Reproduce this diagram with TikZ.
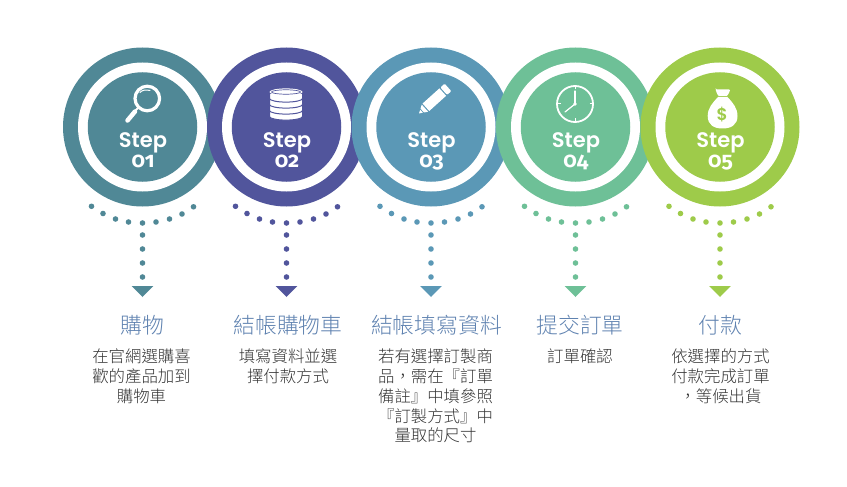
\documentclass[tikz,border=0pt]{standalone}
\usepackage{fontspec}
\setsansfont{Poppins}
\newfontfamily\cjkfont{Noto Sans CJK TC Light}
\newfontfamily\numfont[Numbers=OldStyle]{Fira Sans Bold}
\newfontfamily\stepfont{Poppins SemiBold}
\definecolor{cA}{HTML}{508896}
\definecolor{cB}{HTML}{51559C}
\definecolor{cC}{HTML}{5B98B6}
\definecolor{cD}{HTML}{6EC097}
\definecolor{cE}{HTML}{9ECB4A}
\definecolor{titlec}{HTML}{5F82B0}
\definecolor{bodyc}{HTML}{333333}
\tikzset{
  outerring/.style={circle,minimum size=159pt,inner sep=0pt,fill=#1},
  whitering/.style={circle,minimum size=129pt,inner sep=0pt,fill=white},
  innerdisc/.style={circle,minimum size=109.5pt,inner sep=0pt,fill=#1},
  steptext/.style={text=white,font=\stepfont\fontsize{21}{24}\selectfont,anchor=base,inner sep=0pt},
  numtext/.style={text=white,font=\numfont\fontsize{21.5}{24}\selectfont,anchor=base,inner sep=0pt},
  titletext/.style={text=titlec,font=\cjkfont\fontsize{21.8}{26}\selectfont,anchor=center,inner sep=0pt},
  bodytext/.style={text=bodyc,font=\cjkfont\fontsize{16.4}{19.7}\selectfont,align=center,anchor=north,inner sep=0pt},
}
% #1 name suffix, #2 x, #3 colour, #4 number
\newcommand{\stepblock}[4]{%
  \node[outerring=#3] (outer#1) at (#2,127) {};
  \node[whitering] (white#1) at (#2,127) {};
  \node[innerdisc=#3] (inner#1) at (#2,127) {};
  \node[steptext] (step#1) at (#2+0.5,147.5) {Step};
  \node[numtext] (num#1) at (#2+0.5,167.5) {#4};
  \foreach \dx/\dy in {-51/206.3,-39.5/213.5,-27/219,-14/222,0/223,13.5/222,27/219,39.5/214,51/206.8}
    \fill[#3] (#2+\dx,\dy) circle (2.8pt);
  \foreach \dy in {235,249,263,277}
    \fill[#3] (#2,\dy) circle (2.8pt);
  \coordinate (tipL#1) at (#2-10.8,286);
  \coordinate (tipR#1) at (#2+10.8,286);
  \coordinate (tipB#1) at (#2,297);
  \fill[#3] (tipL#1) -- (tipR#1) -- (tipB#1) -- cycle;
}
\begin{document}
\begin{tikzpicture}[x=1pt,y=-1pt]
\useasboundingbox (0,0) rectangle (847,487);
\stepblock{1}{142.5}{cA}{01}
\stepblock{2}{286.5}{cB}{02}
\stepblock{3}{431}{cC}{03}
\stepblock{4}{575.5}{cD}{04}
\stepblock{5}{720}{cE}{05}
% magnifier
\draw[white,line width=3.2pt] (147.3,98.5) circle (12.3pt);
\draw[white,line width=1pt,line cap=round] (140,92.5) .. controls (142,90) and (146,89.5) .. (150,90.5);
\draw[white,line width=2pt] (138.5,107.5) -- (135,111);
\draw[white,line width=4.5pt,line cap=round] (135,111.5) -- (127.5,120.5);
% database
\foreach \yy in {111.5,105.5,99.5,93.5}{
  \fill[white,draw=cB,line width=1pt] (269.5,\yy) -- (269.5,\yy+5) arc[start angle=180,end angle=360,x radius=16.5pt,y radius=3.6pt] -- (302.5,\yy) -- cycle;
}
\fill[white] (286,92) ellipse[x radius=16.5pt,y radius=3.6pt];
\draw[cB,line width=0.7pt] (286,92) ellipse[x radius=14.5pt,y radius=2.2pt];
% pencil
\begin{scope}[shift={(419,113.5)},rotate=42]
  \fill[white] (0,0) -- (3.4,-2) -- (3.4,2) -- cycle;
  \fill[white] (4.4,-2.6) -- (8,-4.8) -- (8,4.8) -- (4.4,2.6) -- cycle;
  \fill[white] (9.3,-5) -- (32,-5) -- (32,5) -- (9.3,5) -- cycle;
  \fill[white,rounded corners=1pt] (33.3,-5) -- (39,-5) -- (39,5) -- (33.3,5) -- cycle;
\end{scope}
% clock
\draw[white,line width=1.8pt] (575,104) circle (18pt);
\foreach \a in {0,90,180,270}
  \draw[white,line width=1pt] (575,104) ++(\a:14.5pt) -- ++(\a:3pt);
\draw[white,line width=1.2pt,line cap=round] (575,104) -- (575,91);
\draw[white,line width=1.2pt,line cap=round] (575,104) -- (565,112);
\fill[white] (575,104) circle (1.8pt);
% money bag
\fill[white,rounded corners=1pt] (715.7,89.3) -- (730,89.3) .. controls (730,92) and (728,94) .. (727.5,96) -- (718,96) .. controls (717.5,94) and (716,92) .. (715.7,89.3) -- cycle;
\fill[white] (718,97) -- (727.5,97) .. controls (733,103) and (737.5,108) .. (737.5,116) .. controls (737.5,125) and (731,128.5) .. (722.5,128.5) .. controls (714,128.5) and (707.7,125) .. (707.7,116) .. controls (707.7,108) and (712.5,103) .. (718,97) -- cycle;
\node[text=cE,font=\stepfont\fontsize{17}{20}\selectfont,inner sep=0pt] (dollar) at (722.3,115) {\$};
% titles and bodies
\node[titletext] (title1) at (142.5,325) {購物};
\node[titletext] (title2) at (288,325) {結帳購物車};
\node[titletext] (title3) at (436.5,325) {結帳填寫資料};
\node[titletext] (title4) at (580,325) {提交訂單};
\node[titletext] (title5) at (720,325) {付款};
\node[bodytext] (body1) at (141.5,349) {在官網選購喜\\歡的產品加到\\購物車};
\node[bodytext] (body2) at (288,349) {填寫資料並選\\擇付款方式};
\node[bodytext] (body3) at (435.5,349) {若有選擇訂製商\\品，需在『訂單\\備註』中填參照\\『訂製方式』中\\量取的尺寸};
\node[bodytext] (body4) at (580,349) {訂單確認};
\node[bodytext] (body5) at (720.5,349) {依選擇的方式\\付款完成訂單\\，等候出貨};
\end{tikzpicture}
\end{document}
